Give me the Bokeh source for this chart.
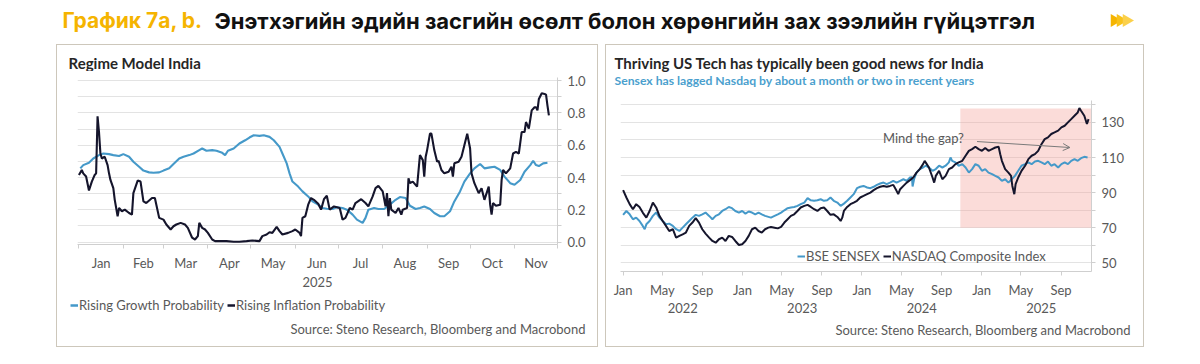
import pandas as pd
from bokeh.plotting import figure
from bokeh.models import (Range1d, FixedTicker, LinearAxis, Legend, LegendItem,
                          Spacer, BoxAnnotation, Arrow, OpenHead, Label, NumeralTickFormatter)
from bokeh.layouts import column, row
from bokeh.embed import file_html
from bokeh.resources import INLINE

# ---------------- data: left panel "Regime Model India" (x = day of 2025, 0 = 1 Jan) ----------------
growth_day = [1, 3, 7, 10, 14, 17, 21, 24, 28, 31,
              35, 38, 42, 45, 49, 52, 56, 59, 63, 66,
              70, 73, 77, 80, 84, 86, 89, 93, 96, 100,
              102, 104, 108, 112, 116, 119, 122, 126, 129, 133,
              136, 140, 142, 145, 147, 149, 153, 156, 160, 163,
              167, 170, 173, 177, 180, 184, 187, 191, 194, 198,
              200, 202, 206, 209, 213, 217, 221, 224, 228, 231,
              235, 238, 241, 245, 248, 252, 255, 259, 262, 266,
              269, 273, 276, 280, 283, 287, 290, 294, 297, 301,
              304, 308, 311, 315, 317, 319, 321, 324, 327]
growth_prob = [0.457, 0.477, 0.492, 0.518, 0.539, 0.549, 0.545, 0.539, 0.533, 0.545,
               0.529, 0.498, 0.467, 0.443, 0.432, 0.430, 0.432, 0.443, 0.457, 0.484,
               0.518, 0.529, 0.539, 0.549, 0.570, 0.580, 0.566, 0.570, 0.566, 0.553,
               0.539, 0.566, 0.580, 0.611, 0.631, 0.648, 0.662, 0.658, 0.662, 0.652,
               0.631, 0.590, 0.549, 0.488, 0.426, 0.375, 0.344, 0.314, 0.283, 0.252,
               0.232, 0.211, 0.207, 0.205, 0.215, 0.211, 0.201, 0.170, 0.139, 0.119,
               0.150, 0.201, 0.211, 0.205, 0.205, 0.232, 0.262, 0.279, 0.273, 0.225,
               0.205, 0.211, 0.221, 0.205, 0.180, 0.160, 0.160, 0.191, 0.252, 0.314,
               0.375, 0.426, 0.457, 0.484, 0.457, 0.463, 0.467, 0.447, 0.406, 0.365,
               0.355, 0.385, 0.436, 0.477, 0.504, 0.477, 0.471, 0.488, 0.492]

inflation_day = [0, 2, 3, 5, 7, 9, 11, 12, 13, 14,
                 15, 16, 18, 20, 21, 22, 24, 25, 27, 28,
                 30, 32, 35, 37, 38, 41, 43, 45, 47, 51,
                 53, 56, 59, 61, 64, 66, 68, 71, 74, 76,
                 79, 81, 83, 84, 86, 88, 90, 93, 95, 99,
                 103, 108, 112, 117, 121, 126, 128, 131, 133, 135,
                 138, 140, 142, 146, 149, 151, 154, 155, 156, 158,
                 160, 162, 164, 167, 169, 171, 173, 175, 178, 182,
                 184, 186, 189, 191, 193, 197, 200, 202, 205, 207,
                 209, 212, 214, 215, 216, 217, 218, 221, 223, 225,
                 226, 229, 230, 231, 233, 236, 238, 240, 241, 242,
                 243, 245, 246, 248, 250, 251, 253, 255, 258, 260,
                 261, 262, 265, 267, 269, 271, 273, 274, 276, 279,
                 281, 283, 286, 287, 288, 289, 291, 294, 295, 296,
                 298, 301, 303, 305, 307, 309, 311, 312, 314, 316,
                 318, 319, 320, 321, 323, 325, 326, 327, 328]
inflation_prob = [0.416, 0.447, 0.426, 0.406, 0.320, 0.375, 0.416, 0.426, 0.779, 0.682,
                  0.549, 0.518, 0.529, 0.477, 0.426, 0.385, 0.334, 0.262, 0.160, 0.211,
                  0.191, 0.201, 0.180, 0.170, 0.303, 0.381, 0.375, 0.252, 0.242, 0.273,
                  0.273, 0.150, 0.139, 0.109, 0.078, 0.098, 0.109, 0.119, 0.109, 0.088,
                  0.027, 0.016, 0.037, 0.119, 0.088, 0.078, 0.057, 0.016, 0.006, 0.006,
                  0.006, 0.002, 0.002, 0.006, 0.010, 0.006, 0.037, 0.047, 0.061, 0.057,
                  0.094, 0.068, 0.047, 0.057, 0.068, 0.078, 0.057, 0.037, 0.150, 0.160,
                  0.232, 0.273, 0.262, 0.238, 0.201, 0.266, 0.287, 0.201, 0.221, 0.211,
                  0.139, 0.150, 0.211, 0.201, 0.242, 0.266, 0.242, 0.221, 0.283, 0.334,
                  0.348, 0.314, 0.221, 0.303, 0.160, 0.273, 0.201, 0.180, 0.211, 0.170,
                  0.201, 0.211, 0.395, 0.365, 0.375, 0.344, 0.539, 0.508, 0.406, 0.529,
                  0.570, 0.672, 0.672, 0.570, 0.498, 0.504, 0.447, 0.426, 0.436, 0.467,
                  0.406, 0.488, 0.498, 0.529, 0.600, 0.672, 0.580, 0.426, 0.365, 0.303,
                  0.334, 0.262, 0.344, 0.232, 0.170, 0.242, 0.225, 0.232, 0.385, 0.447,
                  0.426, 0.457, 0.549, 0.559, 0.549, 0.682, 0.682, 0.744, 0.703, 0.816,
                  0.836, 0.836, 0.816, 0.887, 0.922, 0.918, 0.914, 0.846, 0.785]

regime_months = ["Jan", "Feb", "Mar", "Apr", "May", "Jun", "Jul", "Aug", "Sep", "Oct", "Nov"]
regime_month_start = [0, 31, 59, 90, 120, 151, 181, 212, 243, 273, 304, 334]
regime_year = "2025"
regime_y_ticks = [0.0, 0.2, 0.4, 0.6, 0.8, 1.0]

# ---------------- data: right panel (x = days since 2022-01-01) ----------------
sensex_day = [0, 10, 20, 30, 40, 50, 60, 66, 71, 81,
              91, 101, 111, 121, 131, 141, 152, 162, 172, 182,
              192, 202, 212, 222, 232, 242, 252, 263, 273, 283,
              293, 303, 313, 323, 333, 343, 354, 364, 374, 384,
              394, 404, 414, 424, 434, 452, 463, 473, 483, 493,
              503, 513, 523, 533, 543, 554, 564, 574, 584, 594,
              604, 614, 624, 634, 644, 655, 665, 675, 685, 695,
              705, 715, 725, 735, 746, 756, 766, 776, 786, 796,
              806, 816, 826, 836, 847, 857, 867, 877, 883, 885,
              890, 897, 907, 917, 925, 935, 946, 956, 966, 976,
              986, 996, 1001, 1006, 1016, 1026, 1037, 1047, 1057, 1067,
              1077, 1087, 1097, 1107, 1117, 1128, 1138, 1148, 1158, 1168,
              1178, 1188, 1198, 1208, 1218, 1229, 1239, 1249, 1259, 1269,
              1279, 1289, 1299, 1309, 1319, 1330, 1340, 1350, 1360, 1370,
              1380, 1390, 1400, 1410, 1420]
sensex_val = [77.3, 79.5, 77.6, 74.8, 75.7, 73.8, 71.0, 69.1, 71.9, 73.8,
              76.7, 78.6, 75.7, 73.8, 71.9, 72.3, 71.0, 69.1, 68.1, 70.0,
              71.9, 73.8, 75.7, 77.3, 76.7, 77.6, 78.6, 76.7, 74.8, 76.7,
              77.6, 79.5, 80.5, 81.8, 81.1, 79.5, 78.6, 79.5, 78.0, 79.2,
              78.6, 77.6, 78.6, 77.6, 76.7, 75.7, 76.7, 77.6, 78.6, 79.9,
              81.1, 81.5, 81.8, 82.4, 83.4, 84.3, 86.8, 85.6, 85.3, 85.6,
              86.2, 85.3, 85.6, 87.2, 85.3, 84.3, 82.4, 83.7, 85.3, 87.2,
              89.1, 92.5, 93.3, 93.8, 92.9, 92.5, 93.3, 94.4, 95.2, 95.7,
              94.8, 95.7, 96.7, 95.7, 96.7, 97.6, 96.7, 98.6, 98.8, 93.5,
              98.0, 101.4, 103.4, 104.3, 105.3, 104.3, 102.4, 103.4, 105.3, 104.3,
              105.3, 107.2, 110.0, 108.1, 107.2, 105.3, 106.2, 104.3, 101.4, 103.4,
              106.2, 105.3, 102.4, 103.4, 101.4, 100.5, 99.5, 98.6, 96.7, 97.6,
              95.7, 97.6, 99.5, 102.4, 105.3, 106.2, 107.2, 106.2, 107.7, 108.1,
              107.2, 106.2, 107.7, 105.3, 106.2, 104.3, 106.2, 107.2, 106.2, 108.1,
              109.1, 108.1, 109.6, 110.4, 110.0]

nasdaq_day = [0, 10, 20, 30, 40, 50, 60, 71, 81, 91,
              101, 111, 121, 131, 141, 152, 162, 172, 182, 192,
              202, 212, 222, 232, 242, 252, 263, 273, 283, 293,
              303, 313, 323, 333, 343, 354, 364, 374, 384, 394,
              404, 414, 424, 434, 444, 452, 463, 473, 483, 493,
              503, 513, 523, 533, 543, 554, 564, 574, 584, 594,
              604, 614, 624, 634, 644, 655, 665, 670, 675, 685,
              695, 705, 715, 725, 735, 746, 756, 766, 776, 786,
              796, 806, 816, 826, 836, 841, 847, 857, 867, 877,
              887, 897, 907, 917, 922, 925, 935, 946, 951, 956,
              966, 976, 986, 996, 1006, 1016, 1026, 1037, 1047, 1057,
              1067, 1077, 1087, 1097, 1107, 1117, 1128, 1138, 1148, 1153,
              1158, 1168, 1178, 1186, 1190, 1196, 1200, 1208, 1218, 1229,
              1239, 1249, 1259, 1269, 1279, 1289, 1299, 1309, 1319, 1330,
              1340, 1350, 1360, 1370, 1380, 1390, 1395, 1400, 1410, 1418,
              1423]
nasdaq_val = [91.4, 87.2, 83.4, 80.5, 83.4, 81.8, 78.6, 75.7, 79.5, 84.3,
              81.5, 76.7, 73.8, 71.0, 68.1, 69.1, 64.3, 65.3, 66.2, 67.2,
              71.0, 72.9, 75.4, 72.9, 69.1, 66.6, 64.3, 62.4, 61.4, 63.4,
              64.3, 62.4, 65.3, 64.7, 62.4, 60.1, 60.5, 62.4, 65.3, 69.1,
              70.0, 68.1, 67.2, 69.1, 70.0, 70.4, 70.0, 69.6, 70.4, 72.9,
              74.8, 76.7, 77.6, 79.5, 81.5, 82.4, 83.0, 81.8, 80.5, 79.5,
              81.1, 81.5, 79.5, 77.3, 77.6, 76.1, 73.8, 75.7, 79.5, 81.8,
              83.4, 84.3, 85.3, 87.2, 88.1, 89.1, 90.0, 91.4, 92.5, 93.3,
              93.8, 93.3, 93.8, 94.4, 91.0, 89.1, 91.9, 93.8, 95.7, 97.1,
              98.6, 101.4, 103.4, 106.2, 108.1, 107.2, 104.3, 98.6, 95.7, 99.5,
              102.4, 97.6, 99.5, 103.4, 104.3, 106.2, 107.2, 108.1, 111.0, 113.8,
              114.8, 116.1, 114.8, 113.8, 115.4, 113.8, 114.8, 115.7, 116.1, 111.9,
              108.1, 103.4, 101.4, 99.5, 93.8, 89.1, 94.8, 98.6, 102.4, 105.3,
              109.1, 111.0, 111.9, 113.8, 117.6, 120.5, 121.5, 123.4, 124.3, 125.3,
              127.2, 128.1, 130.0, 131.9, 133.8, 135.7, 138.2, 136.7, 133.8, 129.1,
              131.9]

tech_origin = "2022-01-01"
tech_tick_dates = ["2022-01-01", "2022-05-01", "2022-09-01", "2023-01-01", "2023-05-01", "2023-09-01",
                   "2024-01-01", "2024-05-01", "2024-09-01", "2025-01-01", "2025-05-01", "2025-09-01"]
tech_tick_labels = ["Jan", "May", "Sep"] * 4
tech_years = ["2022", "2023", "2024", "2025"]
tech_y_ticks = [50, 70, 90, 110, 130]
highlight_start, highlight_bottom, highlight_top = "2024-10-28", 70, 138
gap_text = "Mind the gap?"
gap_arrow_from = ("2024-12-18", 119.1)
gap_arrow_to = ("2025-09-28", 115.7)

SOURCE = "Source: Steno Research, Bloomberg and Macrobond"

# ---------------- style ----------------
BLUE = "#4599c9"
NAVY = "#15152c"
GRID = "#e3e3e3"
AXIS = "#cfcfcf"
TXT = "#595959"
DARK = "#262626"
GOLD = "#F5B400"
FONT = "Lato"
BORDER_BG = {"background-color": "#cdc7bb"}

origin = pd.Timestamp(tech_origin)


def tday(d):
    return (pd.Timestamp(d) - origin).days


def no_align(f):
    if "frame_align" in f.properties():
        f.frame_align = False
    return f


def style_axes(p):
    for ax in p.xaxis + p.yaxis:
        ax.axis_line_color = AXIS
        ax.major_tick_line_color = AXIS
        ax.minor_tick_line_color = AXIS
        ax.major_tick_in = 0
        ax.minor_tick_in = 0
        ax.major_label_text_font = FONT
        ax.major_label_text_font_size = "13px"
        ax.major_label_text_color = TXT
    p.xgrid.visible = False
    p.outline_line_color = None
    no_align(p)


def text_fig(w, h, y0=0):
    # pixel-coordinate canvas; y0 shifts the vertical range
    f = figure(width=w, height=h, x_range=Range1d(0, w), y_range=Range1d(y0, y0 + h),
               x_axis_type=None, y_axis_type=None, output_backend="svg",
               toolbar_location=None, min_border=0)
    f.grid.visible = False
    f.outline_line_color = None
    return no_align(f)


def txt(f, x, y, s, size="13px", color=TXT, style="normal", align="left", font=FONT):
    f.add_layout(Label(x=x, y=y, text=s, text_font=font, text_font_size=size,
                       text_font_style=style, text_color=color, text_align=align,
                       text_baseline="middle"))


def boxed(parts, w, h):
    return column(Spacer(width=w + 2, height=1, styles=BORDER_BG),
                  row(Spacer(width=1, height=h, styles=BORDER_BG), column(*parts),
                      Spacer(width=1, height=h, styles=BORDER_BG)),
                  Spacer(width=w + 2, height=1, styles=BORDER_BG))


# ================= left panel =================
l_head = text_fig(540, 26)
txt(l_head, 11, 9, "Regime Model India", size="15px", color=DARK, style="bold")

left = figure(width=540, height=218, x_range=Range1d(-1, 334), y_range=Range1d(-0.015, 1.02),
              y_axis_location="right", output_backend="svg", toolbar_location=None,
              min_border_left=20, min_border_right=40, min_border_top=6, min_border_bottom=44)
style_axes(left)
r_g = left.line(growth_day, growth_prob, line_color=BLUE, line_width=2.1)
r_i = left.line(inflation_day, inflation_prob, line_color=NAVY, line_width=2.1)

yt = FixedTicker(ticks=regime_y_ticks, minor_ticks=[0.1, 0.3, 0.5, 0.7, 0.9])
left.yaxis.ticker = yt
left.yaxis.formatter = NumeralTickFormatter(format="0.0")
left.yaxis.major_tick_out = 4
left.yaxis.minor_tick_out = 4
left.yaxis.major_label_standoff = 6
left.ygrid.ticker = yt
left.ygrid.grid_line_color = GRID
left.ygrid.minor_grid_line_color = GRID

mids = [(a + b) / 2 for a, b in zip(regime_month_start[:-1], regime_month_start[1:])]
left.xaxis.ticker = FixedTicker(ticks=mids, minor_ticks=regime_month_start)
left.xaxis.major_label_overrides = {m: lab for m, lab in zip(mids, regime_months)}
left.xaxis.major_tick_out = 0
left.xaxis.minor_tick_out = 4
left.xaxis.major_label_standoff = 6

ymid = 166.5
ly = LinearAxis(ticker=FixedTicker(ticks=[ymid]), major_label_overrides={ymid: regime_year},
                axis_line_color=None, major_tick_line_color=None, minor_tick_line_color=None,
                major_label_standoff=-3, major_label_text_font=FONT,
                major_label_text_font_size="13px", major_label_text_color=TXT)
left.add_layout(ly, "below")

# footer: legend + source.  The key lines reuse the series, which fall outside this strip's range.
l_foot = text_fig(540, 57, y0=-60)
k_g = l_foot.line(growth_day, growth_prob, line_color=BLUE, line_width=2.5)
k_i = l_foot.line(inflation_day, inflation_prob, line_color=NAVY, line_width=2.5)
l_foot.add_layout(Legend(items=[LegendItem(label="Rising Growth Probability", renderers=[k_g]),
                                LegendItem(label="Rising Inflation Probability", renderers=[k_i])],
                         orientation="horizontal", location=(13, 33), margin=0, padding=0, spacing=3,
                         glyph_width=8, glyph_height=14, label_standoff=1, label_height=14,
                         border_line_color=None, background_fill_alpha=0,
                         label_text_font=FONT, label_text_font_size="13px", label_text_color=TXT))
txt(l_foot, 528, -3 - 39, SOURCE, align="right")

# ================= right panel =================
r_head = text_fig(537, 50)
txt(r_head, 8, 33, "Thriving US Tech has typically been good news for India", size="15px",
    color=DARK, style="bold")
txt(r_head, 8, 15, "Sensex has lagged Nasdaq by about a month or two in recent years", size="12.2px",
    color="#4b9fce", style="bold")

right = figure(width=537, height=220, x_range=Range1d(-8, 1432), y_range=Range1d(45, 142.5),
               y_axis_location="right", output_backend="svg", toolbar_location=None,
               min_border_left=14, min_border_right=52, min_border_top=5, min_border_bottom=44)
style_axes(right)

right.add_layout(BoxAnnotation(left=tday(highlight_start), bottom=highlight_bottom, top=highlight_top,
                               fill_color="#f4a39b", fill_alpha=0.38, line_color=None,
                               level="underlay"))

r_s = right.line(sensex_day, sensex_val, line_color=BLUE, line_width=2.0)
r_n = right.line(nasdaq_day, nasdaq_val, line_color=NAVY, line_width=2.0)

yt2 = FixedTicker(ticks=tech_y_ticks, minor_ticks=[60, 80, 100, 120, 140])
right.yaxis.ticker = yt2
right.yaxis.major_tick_out = 4
right.yaxis.minor_tick_out = 4
right.yaxis.major_label_standoff = 6
right.ygrid.ticker = yt2
right.ygrid.grid_line_color = GRID
right.ygrid.minor_grid_line_color = GRID

tpos = [tday(d) for d in tech_tick_dates]
right.xaxis.ticker = FixedTicker(ticks=tpos)
right.xaxis.major_label_overrides = {t: lab for t, lab in zip(tpos, tech_tick_labels)}
right.xaxis.major_tick_out = 4
right.xaxis.major_label_standoff = 6

ypos = [(tday(y + "-01-01") + tday(str(int(y) + 1) + "-01-01")) / 2 for y in tech_years]
ry = LinearAxis(ticker=FixedTicker(ticks=ypos), major_label_overrides={t: y for t, y in zip(ypos, tech_years)},
                axis_line_color=None, major_tick_line_color=None, minor_tick_line_color=None,
                major_label_standoff=-4, major_label_text_font=FONT,
                major_label_text_font_size="13px", major_label_text_color=TXT)
right.add_layout(ry, "below")

right.add_layout(Arrow(end=OpenHead(size=7, line_color="#7a7a7a", line_width=1),
                       x_start=tday(gap_arrow_from[0]), y_start=gap_arrow_from[1],
                       x_end=tday(gap_arrow_to[0]), y_end=gap_arrow_to[1],
                       line_color="#7a7a7a", line_width=1))
right.add_layout(Label(x=tday(gap_arrow_from[0]) - 40, y=gap_arrow_from[1] + 2, text=gap_text,
                       text_align="right", text_baseline="middle", text_font=FONT,
                       text_font_size="13px", text_color=TXT))

leg_r = Legend(items=[LegendItem(label="BSE SENSEX", renderers=[r_s]),
                      LegendItem(label="NASDAQ Composite Index", renderers=[r_n])],
               orientation="horizontal", location=(177, 7), margin=0, padding=0, spacing=3,
               glyph_width=8, glyph_height=14, label_standoff=1, label_height=14,
               border_line_color=None, background_fill_alpha=0,
               label_text_font=FONT, label_text_font_size="13px", label_text_color=TXT)
right.add_layout(leg_r)

r_foot = text_fig(537, 31)
txt(r_foot, 524, 17, SOURCE, align="right")

# ================= header =================
header = text_fig(1184, 44)
txt(header, 62, 24, "График 7a, b.", size="21px", color=GOLD, style="bold", font="Inter")
txt(header, 214, 24, "Энэтхэгийн эдийн засгийн өсөлт болон хөрөнгийн зах зээлийн гүйцэтгэл",
    size="22px", color="#111111", style="bold", font="Inter")
icon_x = [1114, 1120, 1126]
header.scatter(icon_x, [24, 24, 24], marker="triangle", size=13, angle=-1.5708,
               fill_color=["#f5b400", "#f8c21a", "#fbd04a"], line_color=None)

layout = column(header,
                row(Spacer(width=56, height=303),
                    boxed([l_head, left, l_foot], 540, 301),
                    Spacer(width=7, height=303),
                    boxed([r_head, right, r_foot], 537, 301)))

open("out.html", "w").write(file_html(layout, INLINE, title="Chart 7a, b"))
